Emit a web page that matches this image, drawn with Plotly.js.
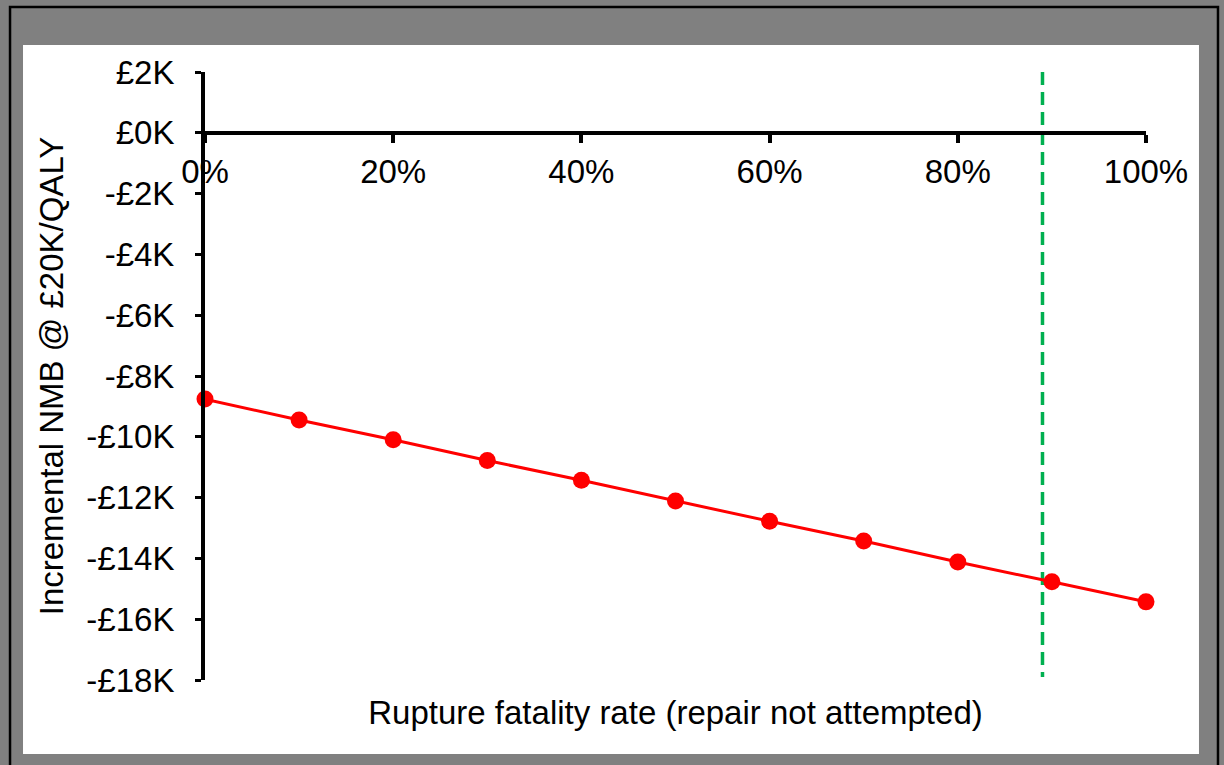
<!DOCTYPE html>
<html><head><meta charset="utf-8">
<script src="https://cdn.plot.ly/plotly-3.0.1.min.js"></script>
<style>html,body{margin:0;padding:0;background:#808080;} #chart{width:1224px;height:765px;}</style>
</head><body><div id="chart"></div>
<script>
const fatalityRate = [0, 10, 20, 30, 40, 50, 60, 70, 80, 90, 100];
const incrementalNMB = [-8760, -9450, -10100, -10780, -11430, -12110, -12780, -13430, -14120, -14770, -15430];
const thresholdX = [89, 89];
const thresholdY = [2000, -17900];
const yTickVals = [2000, 0, -2000, -4000, -6000, -8000, -10000, -12000, -14000, -16000, -18000];
const yTickText = ['£2K', '£0K', '-£2K', '-£4K', '-£6K', '-£8K', '-£10K', '-£12K', '-£14K', '-£16K', '-£18K'];
const xTickVals = [0, 20, 40, 60, 80, 100];
const xTickText = ['0%', '20%', '40%', '60%', '80%', '100%'];

const FONT = 'Liberation Sans, Arial, sans-serif';

const traces = [
  {
    x: thresholdX, y: thresholdY, xaxis: 'x', yaxis: 'y',
    mode: 'lines', line: {color: '#00B050', width: 3.5, dash: '13px,7px'},
    hoverinfo: 'skip', showlegend: false, cliponaxis: false
  },
  {
    x: fatalityRate, y: incrementalNMB, xaxis: 'x2', yaxis: 'y',
    mode: 'lines+markers', line: {color: '#FF0000', width: 3},
    marker: {color: '#FF0000', size: 17}, showlegend: false, cliponaxis: false
  }
];

const layout = {
  width: 1224, height: 765,
  paper_bgcolor: '#808080', plot_bgcolor: '#FFFFFF',
  margin: {l: 205, r: 78, t: 72, b: 85},
  font: {family: FONT, color: '#000000'},
  showlegend: false,
  xaxis: {
    range: [0, 100], showline: false, showticklabels: false, ticks: '',
    showgrid: false, zeroline: false, automargin: false,
    title: {text: 'Rupture fatality rate (repair not attempted)', font: {size: 33, family: FONT, color: '#000'}, standoff: 20}
  },
  xaxis2: {
    overlaying: 'x', anchor: 'free', position: 0.9, side: 'bottom',
    range: [0, 100], tickvals: xTickVals, ticktext: xTickText,
    ticks: 'outside', ticklen: 8, tickwidth: 4, tickcolor: '#000',
    showline: true, linewidth: 4, linecolor: '#000',
    showgrid: false, zeroline: false, automargin: false,
    tickfont: {size: 33, family: FONT, color: '#000'}, ticklabelstandoff: 1
  },
  yaxis: {
    range: [-18000, 2000], tickvals: yTickVals, ticktext: yTickText,
    ticks: 'outside', ticklen: 6, tickwidth: 3, tickcolor: '#000',
    showline: true, linewidth: 4, linecolor: '#000',
    showgrid: false, zeroline: false, automargin: false,
    tickfont: {size: 33, family: FONT, color: '#000'}, ticklabelstandoff: 14,
    title: {text: 'Incremental NMB @ £20K/QALY', font: {size: 33, family: FONT, color: '#000'}, standoff: 14}
  },
  shapes: [
    {type: 'rect', xref: 'paper', yref: 'paper', layer: 'below',
     x0: -0.2072, x1: 1.0765, y0: -0.181, y1: 1.1069,
     line: {color: '#000', width: 2.5}, fillcolor: 'rgba(0,0,0,0)'},
    {type: 'rect', xref: 'paper', yref: 'paper', layer: 'below',
     x0: -0.1934, x1: 1.0563, y0: -0.1217, y1: 1.0444,
     line: {width: 0}, fillcolor: '#FFFFFF'}
  ]
};

Plotly.newPlot('chart', traces, layout, {displayModeBar: false, staticPlot: true});
</script>
</body></html>
